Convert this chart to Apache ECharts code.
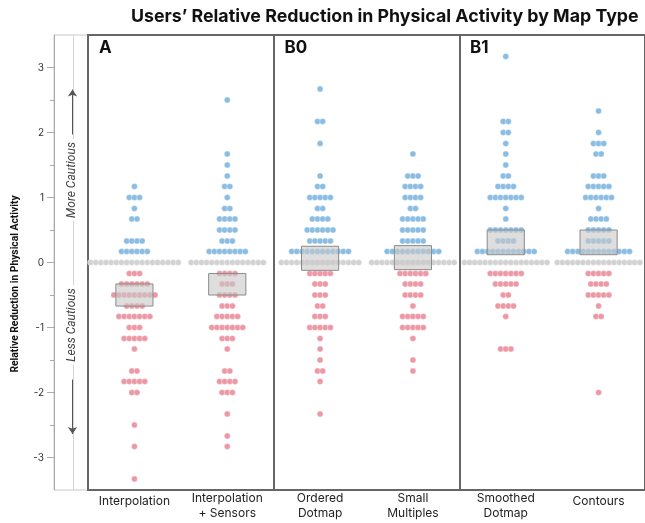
<!DOCTYPE html>
<html>
<head>
<meta charset="utf-8">
<script src="https://cdn.jsdelivr.net/npm/echarts@6/dist/echarts.min.js"></script>
<style>
  html, body { margin: 0; padding: 0; background: #fff; }
  #chart { width: 645px; height: 523px; }
</style>
</head>
<body>
<div id="chart"></div>
<script>
// categories, in panel order (A, A, B0, B0, B1, B1)
var categories = ['Interpolation', 'Interpolation\n+ Sensors', 'Ordered\nDotmap', 'Small\nMultiples', 'Smoothed\nDotmap', 'Contours'];
var panels = ['A', 'B0', 'B1'];
var yTicks = [-3, -2, -1, 0, 1, 2, 3];
var yHalfTicks = [-2.5, -1.5, -0.5, 0.5, 1.5, 2.5];

// each category: the value of a row of dots and how many dots sit in that row
var interpValues = [1.17, 1, 0.83, 0.67, 0.33, 0.17, 0, -0.17, -0.33, -0.5, -0.67, -0.83, -1, -1.17, -1.33, -1.67, -1.83, -2, -2.5, -2.83, -3.33];
var interpCounts = [1, 3, 1, 2, 4, 6, 18, 3, 6, 9, 4, 7, 3, 5, 1, 2, 5, 2, 1, 1, 1];

var sensorsValues = [2.5, 1.67, 1.5, 1.33, 1.17, 1, 0.83, 0.67, 0.5, 0.33, 0.17, 0, -0.17, -0.33, -0.5, -0.67, -0.83, -1, -1.17, -1.33, -1.67, -1.83, -2, -2.33, -2.67, -2.83];
var sensorsCounts = [1, 1, 1, 1, 2, 1, 2, 4, 4, 3, 8, 15, 4, 3, 4, 3, 5, 7, 3, 1, 2, 4, 3, 1, 1, 1];

var orderedValues = [2.67, 2.17, 1.83, 1.33, 1.17, 1, 0.83, 0.67, 0.5, 0.33, 0.17, 0, -0.17, -0.33, -0.5, -0.67, -0.83, -1, -1.17, -1.33, -1.5, -1.67, -1.83, -2.33];
var orderedCounts = [1, 2, 1, 1, 2, 5, 2, 4, 6, 5, 12, 16, 5, 3, 3, 2, 3, 5, 1, 1, 1, 2, 1, 1];

var smallValues = [1.67, 1.33, 1.17, 1, 0.83, 0.67, 0.5, 0.33, 0.17, 0, -0.17, -0.33, -0.5, -0.67, -0.83, -1, -1.17, -1.5, -1.67];
var smallCounts = [1, 3, 4, 4, 2, 5, 5, 5, 11, 17, 6, 4, 4, 1, 5, 5, 1, 1, 1];

var smoothedValues = [3.17, 2.17, 2, 1.83, 1.67, 1.5, 1.33, 1.17, 1, 0.83, 0.67, 0.5, 0.33, 0.17, 0, -0.17, -0.33, -0.5, -0.67, -0.83, -1.33];
var smoothedCounts = [1, 2, 2, 1, 1, 1, 2, 4, 7, 1, 1, 7, 4, 12, 17, 7, 5, 2, 4, 1, 3];

var contoursValues = [2.33, 2, 1.83, 1.67, 1.33, 1.17, 1, 0.83, 0.67, 0.5, 0.33, 0.17, 0, -0.17, -0.33, -0.5, -0.67, -0.83, -2];
var contoursCounts = [1, 1, 3, 2, 3, 5, 6, 1, 4, 5, 5, 13, 17, 5, 4, 5, 1, 2, 1];

// interquartile boxes
var boxQ1 = [-0.67, -0.5, -0.12, -0.11, 0.12, 0.12];
var boxQ3 = [-0.33, -0.17, 0.25, 0.26, 0.5, 0.5];

var catValues = [interpValues, sensorsValues, orderedValues, smallValues, smoothedValues, contoursValues];
var catCounts = [interpCounts, sensorsCounts, orderedCounts, smallCounts, smoothedCounts, contoursCounts];

var dotStep = 0.0556;   // horizontal step between dots of one row, in category widths

// spread every row of dots around its category centre
var more = [], even = [], less = [];
catValues.forEach(function (values, ci) {
  values.forEach(function (v, k) {
    var n = catCounts[ci][k];
    for (var i = 0; i < n; i++) {
      var pt = [ci + 0.5 + (i - (n - 1) / 2) * dotStep, v];
      if (v > 0) more.push(pt);
      else if (v < 0) less.push(pt);
      else even.push(pt);
    }
  });
});

var boxData = categories.map(function (c, i) { return [i, boxQ1[i], boxQ3[i]]; });

function dotSeries(data, color) {
  return {
    type: 'scatter',
    xAxisIndex: 1,
    yAxisIndex: 2,
    symbolSize: 6,
    silent: true,
    itemStyle: { color: color, opacity: 1, borderColor: 'rgba(255,255,255,0.55)', borderWidth: 0.6 },
    data: data,
    z: 2
  };
}

var chart = echarts.init(document.getElementById('chart'));

chart.setOption({
  animation: false,
  title: {
    text: 'Users\u2019 Relative Reduction in Physical Activity by Map Type',
    left: 126,
    top: 3,
    textStyle: { fontSize: 17.8, fontWeight: 'bold', color: '#111', fontFamily: 'Inter' }
  },
  grid: [
    { left: 54, width: 34, top: 35, bottom: 33, show: true, borderColor: '#c8c8c8', borderWidth: 1 },
    { left: 88, right: -4, top: 35, bottom: 33, show: true, borderColor: '#666', borderWidth: 2 }
  ],
  xAxis: [
    { gridIndex: 0, type: 'value', min: 0, max: 34, show: false },
    {
      gridIndex: 1, type: 'value', min: 0, max: 6, interval: 2,
      axisLine: { show: false }, axisTick: { show: false }, axisLabel: { show: false },
      splitLine: { show: true, lineStyle: { color: '#666', width: 2 } }
    },
    {
      gridIndex: 1, type: 'category', data: categories, position: 'bottom',
      axisLine: { show: false }, axisTick: { show: false }, splitLine: { show: false },
      axisLabel: {
        interval: 0, margin: 1, fontSize: 12, lineHeight: 15, color: '#222', fontFamily: 'Inter',
        formatter: function (v) {
          return v.indexOf('\n') < 0 ? '{one|' + v + '}' : v;
        },
        rich: { one: { fontSize: 12, color: '#222', fontFamily: 'Inter', padding: [5, 0, 0, 0] } }
      }
    }
  ],
  yAxis: [
    {
      gridIndex: 0, type: 'value', min: -3.5, max: 3.5,
      axisLine: { show: true, lineStyle: { color: '#aaa' } },
      axisTick: { show: true, customValues: yTicks, length: 7, lineStyle: { color: '#aaa' } },
      axisLabel: { customValues: yTicks, margin: 10, fontSize: 10, color: '#333', fontFamily: 'Inter' },
      splitLine: { show: false }
    },
    {
      gridIndex: 0, type: 'value', min: -3.5, max: 3.5, position: 'left', offset: 0,
      axisLine: { show: false },
      axisTick: { show: true, customValues: yHalfTicks, length: 4, lineStyle: { color: '#aaa' } },
      axisLabel: { show: false },
      splitLine: { show: false }
    },
    { gridIndex: 1, type: 'value', min: -3.5, max: 3.5, show: false }
  ],
  graphic: [
    {
      type: 'text', x: 15, y: 284, rotation: Math.PI / 2, z: 100,
      style: { text: 'Relative Reduction in Physical Activity', fontSize: 10.3, fontWeight: 'bold', fontFamily: 'Roboto', fill: '#111', textAlign: 'center', textVerticalAlign: 'middle' }
    },
    {
      type: 'text', x: 72, y: 180, rotation: Math.PI / 2, z: 100,
      style: { text: 'More Cautious', fontSize: 12, fontStyle: 'italic', fontFamily: 'Roboto', fill: '#444', textAlign: 'center', textVerticalAlign: 'middle', backgroundColor: '#fff', padding: [0, 3] }
    },
    {
      type: 'text', x: 72, y: 325, rotation: Math.PI / 2, z: 100,
      style: { text: 'Less Cautious', fontSize: 12, fontStyle: 'italic', fontFamily: 'Roboto', fill: '#444', textAlign: 'center', textVerticalAlign: 'middle', backgroundColor: '#fff', padding: [0, 3] }
    }
  ].concat(panels.map(function (p, i) {
    return {
      type: 'text', x: 99 + i * 185.5, y: 48, z: 100,
      style: { text: p, fontSize: 17, fontWeight: 'bold', fontFamily: 'Inter', fill: '#111', textAlign: 'left', textVerticalAlign: 'middle' }
    };
  })),
  series: [
    {
      // guide line and the two direction arrows in the left strip
      type: 'scatter',
      xAxisIndex: 0,
      yAxisIndex: 0,
      data: [],
      markLine: {
        silent: true,
        animation: false,
        label: { show: false },
        symbolSize: 7,
        data: [
          [
            { coord: [19, -3.5], symbol: 'none', lineStyle: { color: '#d4d4d4', width: 1, type: 'solid' } },
            { coord: [19, 3.5], symbol: 'none' }
          ],
          [
            { coord: [18.5, 1.97], symbol: 'none', lineStyle: { color: '#555', width: 1, type: 'solid' } },
            { coord: [18.5, 2.66], symbol: 'arrow' }
          ],
          [
            { coord: [18.5, -1.8], symbol: 'none', lineStyle: { color: '#555', width: 1, type: 'solid' } },
            { coord: [18.5, -2.64], symbol: 'arrow' }
          ]
        ]
      }
    },
    dotSeries(even, '#d2d2d2'),
    dotSeries(more, '#8bbde3'),
    dotSeries(less, '#ec99a5'),
    {
      type: 'custom',
      xAxisIndex: 1,
      yAxisIndex: 2,
      silent: true,
      z: 5,
      encode: { x: 0, y: [1, 2] },
      data: boxData,
      renderItem: function (params, api) {
        var lo = api.coord([api.value(0) + 0.3, api.value(1)]);
        var hi = api.coord([api.value(0) + 0.7, api.value(2)]);
        return {
          type: 'rect',
          shape: { x: lo[0], y: hi[1], width: hi[0] - lo[0], height: lo[1] - hi[1] },
          style: { fill: 'rgba(200,200,200,0.6)', stroke: '#8a8a8a', lineWidth: 1 }
        };
      }
    }
  ]
});
</script>
</body>
</html>
